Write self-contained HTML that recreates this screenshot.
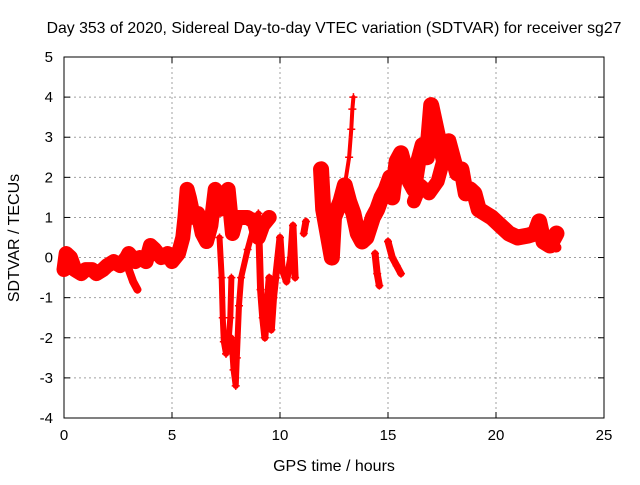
<!DOCTYPE html>
<html><head><meta charset="utf-8"><style>
body{margin:0;background:#fff;}
svg text{font-family:"Liberation Sans",sans-serif;font-size:15px;fill:#000;}
</style></head><body>
<svg id="chart" width="640" height="480" xmlns="http://www.w3.org/2000/svg">
<text x="334" y="33" text-anchor="middle" style="font-size:15.8px">Day 353 of 2020, Sidereal Day-to-day VTEC variation (SDTVAR) for receiver sg27</text>
<text x="334" y="471" text-anchor="middle" style="font-size:16px">GPS time / hours</text>
<text transform="translate(19,238) rotate(-90)" text-anchor="middle" style="font-size:16px">SDTVAR / TECUs</text>
<g id="grid"></g><g id="axes"></g><g id="marks"></g>
</svg>
<script>
const xTicks=[0,5,10,15,20,25];
const yTicks=[-4,-3,-2,-1,0,1,2,3,4,5];
const traceMain=[[0,-0.3],[0.1,0.1],[0.3,0],[0.5,-0.3],[0.8,-0.4],[1.0,-0.3],[1.3,-0.3],[1.5,-0.4],[1.8,-0.3],[2.0,-0.2],[2.3,-0.1],[2.6,-0.2],[2.9,0],[3.0,0.1],[3.3,-0.1],[3.5,0],[3.8,-0.1],[4.0,0.3],[4.2,0.2],[4.5,0],[4.8,0.1],[5.0,-0.1],[5.3,0.1],[5.5,0.5],[5.6,1.0],[5.7,1.7],[5.8,1.5],[6.0,1.0],[6.2,1.1],[6.4,0.6],[6.6,0.4],[6.8,0.8],[7.0,1.7],[7.2,1.2],[7.5,1.5],[7.6,1.7],[7.8,0.6],[8.0,1.0],[8.2,1.0],[8.5,1.0],[8.8,0.9],[9.0,0.5],[9.2,0.8],[9.5,1.0]];
const traceBranch=[[3.0,-0.3],[3.2,-0.6],[3.4,-0.8]];
const traceDip1=[[7.2,0.5],[7.3,-0.5],[7.35,-1.5],[7.4,-2.1],[7.5,-2.4],[7.6,-2.2],[7.7,-1.5],[7.75,-0.5]];
const traceDip2=[[7.75,-2.0],[7.85,-2.8],[7.95,-3.2],[8.0,-2.5],[8.1,-1.2],[8.2,-0.5],[8.5,0.2],[8.8,0.8],[9.0,1.1]];
const traceDip3=[[9.0,1.0],[9.1,-0.8],[9.2,-1.5],[9.3,-2.0],[9.4,-1.2],[9.5,-0.5],[9.6,-1.8],[9.7,-1.0],[9.8,-0.5],[10.0,0.5],[10.1,-0.3],[10.3,-0.6],[10.5,0],[10.6,0.8],[10.7,-0.5]];
const traceSmall=[[11.1,0.6],[11.2,0.9]];
const traceEvening=[[11.9,2.2],[12.0,1.2],[12.2,0.6],[12.4,0],[12.5,1.0],[12.8,1.4],[13.0,1.8],[13.2,1.4],[13.4,1.1],[13.6,0.6],[13.8,0.4],[14.0,0.5],[14.3,1.0],[14.5,1.2],[14.7,1.5],[14.9,1.7],[15.1,2.0],[15.2,1.5],[15.4,2.4],[15.6,2.6],[15.8,2.2],[16.0,1.9],[16.2,1.7],[16.4,2.4],[16.6,2.8],[16.8,2.5],[17.0,3.8],[17.2,3.3],[17.4,2.8],[17.6,2.4],[17.8,2.9],[18.0,2.5],[18.2,2.1],[18.4,2.2],[18.6,1.6],[18.8,1.7],[19.0,1.6],[19.2,1.2],[19.5,1.1],[19.8,1.0],[20.2,0.8],[20.6,0.6],[21.0,0.5],[21.5,0.55],[21.8,0.6],[22.0,0.9],[22.2,0.4],[22.5,0.3],[22.8,0.6]];
const traceLower=[[16.2,1.4],[16.5,1.8],[16.9,1.6],[17.3,1.9],[17.6,2.5]];
const traceTail=[[22.2,0.6],[22.5,0.4],[22.8,0.25]];
const traceSpike=[[13.0,1.8],[13.2,2.5],[13.3,3.2],[13.35,3.7],[13.4,4.0]];
const traceLow1=[[14.4,0.1],[14.5,-0.4],[14.6,-0.7]];
const traceLow2=[[15.0,0.4],[15.2,0],[15.4,-0.2],[15.6,-0.4]];
const traces=[traceMain,traceBranch,traceDip1,traceDip2,traceDip3,traceSmall,traceEvening,traceLower,traceTail,traceSpike,traceLow1,traceLow2];
const widths=[15,8,6,6,7,7,16,14,10,4,7,7];
const X0=64,X1=604,Y0=418,Y1=57,xmin=0,xmax=25,ymin=-4,ymax=5;
function xs(t){return X0+(t-xmin)/(xmax-xmin)*(X1-X0);}
function ys(v){return Y0-(v-ymin)/(ymax-ymin)*(Y0-Y1);}
const NS='http://www.w3.org/2000/svg';
function mk(tag,attrs,parent){const e=document.createElementNS(NS,tag);for(const k in attrs)e.setAttribute(k,attrs[k]);parent.appendChild(e);return e;}
const grid=document.getElementById('grid'),axes=document.getElementById('axes'),marks=document.getElementById('marks');
xTicks.forEach(t=>{
 if(t>xmin&&t<xmax){const g=mk('line',{x1:xs(t),x2:xs(t),y1:Y1,y2:Y0,stroke:'#a0a0a0','stroke-dasharray':'2,3'},grid);
 
 }
 const lb=mk('text',{x:xs(t),y:Y0+22,'text-anchor':'middle'},axes);lb.textContent=t;
 
 
 mk('line',{x1:xs(t),x2:xs(t),y1:Y0,y2:Y0-6,stroke:'#000'},axes);
 mk('line',{x1:xs(t),x2:xs(t),y1:Y1,y2:Y1+6,stroke:'#000'},axes);
});
yTicks.forEach(v=>{
 if(v>ymin&&v<ymax){const g=mk('line',{x1:X0,x2:X1,y1:ys(v),y2:ys(v),stroke:'#a0a0a0','stroke-dasharray':'2,3'},grid);
 
 }
 const lb=mk('text',{x:X0-11,y:ys(v)+5,'text-anchor':'end'},axes);lb.textContent=v;
 
 
 mk('line',{x1:X0,x2:X0+6,y1:ys(v),y2:ys(v),stroke:'#000'},axes);
 mk('line',{x1:X1,x2:X1-6,y1:ys(v),y2:ys(v),stroke:'#000'},axes);
});
const fr=mk('rect',{x:X0,y:Y1,width:X1-X0,height:Y0-Y1,fill:'none',stroke:'#000'},axes);


traces.forEach((tr,i)=>{
 const pl=mk('polyline',{points:tr.map(p=>xs(p[0])+','+ys(p[1])).join(' '),fill:'none',stroke:'#f00','stroke-width':widths[i],'stroke-linejoin':'round','stroke-linecap':'round'},marks);
 
 
 tr.forEach(p=>{
  const x=xs(p[0]),y=ys(p[1]);
  const m=mk('path',{d:`M${x-4},${y}H${x+4}M${x},${y-4}V${y+4}`,stroke:'#f00','stroke-width':1.5},marks);
  
  
 });
});
</script>
</body></html>
